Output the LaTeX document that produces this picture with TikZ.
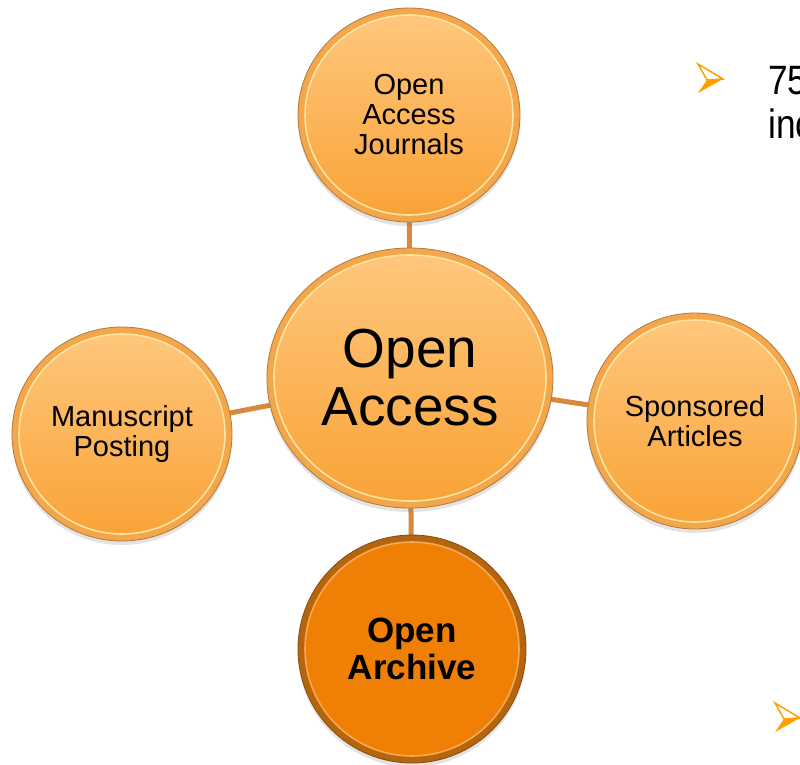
\documentclass[tikz,border=0pt]{standalone}
\usepackage{fontspec}
\setmainfont{Liberation Sans}
\newfontfamily\narrowfont[FakeStretch=0.86]{Liberation Sans}
\usetikzlibrary{shapes.geometric,shadows,backgrounds}
\definecolor{rimline}{HTML}{B27A40}
\definecolor{rimfill}{HTML}{F3A64A}
\definecolor{innertop}{HTML}{FFC87E}
\definecolor{innerbot}{HTML}{F9A236}
\definecolor{hilite}{HTML}{FFE3A0}
\definecolor{darkrim}{HTML}{B4650E}
\definecolor{darkline}{HTML}{8A4A08}
\definecolor{darkfill}{HTML}{F07F05}
\definecolor{darkhi}{HTML}{F8A850}
\definecolor{connc}{HTML}{D8893A}
\definecolor{bulc}{HTML}{FFA000}
\tikzset{
  bub/.style 2 args={ellipse, minimum width=2*#1, minimum height=2*#2, inner sep=0pt,
    draw=rimline, line width=0.8pt, fill=rimfill,
    drop shadow={shadow xshift=0pt, shadow yshift=-4pt, opacity=0.22},
    path picture={\shadedraw[top color=innertop, bottom color=innerbot, draw=hilite, line width=1.6pt]
      (path picture bounding box.center) ellipse [x radius=#1-7, y radius=#2-7];},
    text=black, align=center, font=\fontsize{29}{30}\selectfont},
  bubdark/.style 2 args={ellipse, minimum width=2*#1, minimum height=2*#2, inner sep=0pt,
    draw=darkline, line width=0.8pt, fill=darkrim,
    drop shadow={shadow xshift=0pt, shadow yshift=-4pt, opacity=0.22},
    path picture={\filldraw[fill=darkfill, draw=darkhi, line width=1.6pt]
      (path picture bounding box.center) ellipse [x radius=#1-7, y radius=#2-7];},
    text=black, align=center, font=\fontsize{35}{37}\selectfont\bfseries},
  conn/.style={draw=connc, line width=5pt},
  sidetext/.style={anchor=base west, inner sep=0pt, font=\narrowfont\fontsize{41}{44}\selectfont},
  arrowbul/.pic={
    \fill[bulc] (9,-16) -- (25,-15) -- (0,-29) -- cycle;
    \draw[bulc, line width=1.5pt, line join=miter] (0,0) -- (25,-15) -- (9,-16) -- cycle;
  }
}
\begin{document}
\begin{tikzpicture}[x=1pt,y=1pt]
\useasboundingbox (0,0) rectangle (800,-764);
\clip (0,0) rectangle (800,-764);

\node[bub={111}{107}] (journals) at (409,-115) {Open\\Access\\Journals};
\node[bub={143}{130}, font=\fontsize{55}{58}\selectfont] (oa) at (410,-378) {Open\\Access};
\node[bub={110}{107}] (manu) at (122,-434) {Manuscript\\Posting};
\node[bub={108}{108}] (spons) at (695,-421) {Sponsored\\Articles};
\node[bubdark={114}{114}] (archive) at (412,-649) {Open\\Archive};

\begin{pgfonlayer}{background}
\fill[white] (0,0) rectangle (800,-764);
\draw[conn] (oa.center) -- (journals.center);
\draw[conn] (oa.center) -- (manu.center);
\draw[conn] (oa.center) -- (spons.center);
\draw[conn] (oa.center) -- (archive.center);
\end{pgfonlayer}

\pic at (698,-64) {arrowbul};
\pic at (775,-703) {arrowbul};
\node[sidetext] (t75) at (768,-94) {75};
\node[sidetext] (tinc) at (768,-138) {inc};
\end{tikzpicture}
\end{document}
